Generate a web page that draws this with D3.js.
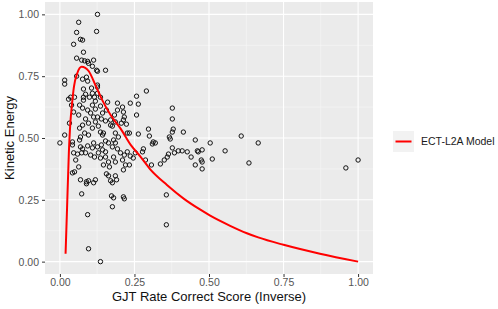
<!DOCTYPE html>
<html>
<head>
<meta charset="utf-8">
<script src="https://cdn.jsdelivr.net/npm/d3@7"></script>
<style>
  html, body { margin: 0; padding: 0; background: #ffffff; }
  svg { display: block; font-family: "Liberation Sans", Arial, sans-serif; }
</style>
</head>
<body>
<svg id="chart" width="498" height="309"></svg>
<script>
// ---- Data ----
const pointX = [
  0.126,0.123,0.063,0.056,0.069,0.076,0.046,0.079,0.056,0.073,0.083,0.093,0.113,0.096,0.109,0.123,0.126,0.153,0.016,0.016,
  0.056,0.076,0.089,0.093,0.126,0.126,0.079,0.106,0.036,0.029,0.049,0.126,0.136,0.160,0.193,0.257,0.290,0.236,0.263,0.257,
  0.213,0.210,0.213,0.206,0.226,0.263,0.297,0.300,0.313,0.320,0.310,0.377,0.377,0.380,0.377,0.367,0.370,0.414,0.454,0.280,
  0.277,0.253,0.226,0.216,0.236,0.210,0.246,0.307,0.337,0.350,0.360,0.364,0.377,0.397,0.410,0.427,0.440,0.464,0.454,0.086,
  0.079,0.099,0.109,0.116,0.066,0.076,0.093,0.103,0.109,0.119,0.063,0.113,0.126,0.119,0.086,0.076,0.096,0.143,0.153,0.170,
  0.186,0.032,0.129,0.136,0.146,0.083,0.096,0.016,0.000,0.042,0.042,0.066,0.069,0.076,0.093,0.109,0.113,0.126,0.139,0.143,
  0.153,0.163,0.176,0.186,0.193,0.203,0.059,0.086,0.103,0.116,0.129,0.136,0.153,0.163,0.180,0.186,0.053,0.042,0.049,0.063,
  0.069,0.089,0.096,0.119,0.163,0.190,0.176,0.220,0.213,0.166,0.146,0.089,0.113,0.170,0.073,0.173,0.180,0.176,0.213,0.216,
  0.093,0.096,0.136,0.357,0.357,0.461,0.477,0.504,0.554,0.511,0.474,0.477,0.477,0.608,0.665,0.634,0.959,1.000,0.287,0.384,
  0.233,0.186,0.156,0.073,0.046,0.066,0.069,0.156,0.143,0.153,0.176,0.186,0.180,0.223,0.233,0.216,0.170,0.139,0.109,0.196,
  0.193,0.183,0.046,0.039,0.079,0.119,0.136
];
const pointY = [
  1.000,0.931,0.968,0.927,0.899,0.896,0.879,0.847,0.823,0.815,0.812,0.810,0.815,0.802,0.790,0.774,0.770,0.774,0.734,0.718,
  0.750,0.738,0.746,0.730,0.714,0.706,0.698,0.702,0.665,0.657,0.665,0.681,0.665,0.645,0.641,0.669,0.690,0.641,0.637,0.593,
  0.605,0.625,0.573,0.560,0.520,0.516,0.536,0.508,0.484,0.480,0.476,0.621,0.577,0.536,0.524,0.504,0.496,0.524,0.492,0.456,
  0.444,0.440,0.444,0.431,0.427,0.411,0.419,0.391,0.395,0.411,0.423,0.435,0.460,0.448,0.448,0.444,0.423,0.444,0.391,0.677,
  0.665,0.665,0.681,0.665,0.633,0.621,0.613,0.601,0.633,0.617,0.593,0.585,0.585,0.565,0.577,0.552,0.560,0.601,0.569,0.552,
  0.565,0.560,0.548,0.524,0.520,0.520,0.512,0.512,0.480,0.484,0.472,0.492,0.464,0.456,0.468,0.460,0.480,0.464,0.472,0.452,
  0.444,0.480,0.464,0.480,0.456,0.440,0.435,0.440,0.431,0.423,0.440,0.419,0.423,0.403,0.423,0.403,0.411,0.359,0.363,0.383,
  0.331,0.323,0.327,0.331,0.347,0.331,0.319,0.391,0.371,0.383,0.391,0.315,0.319,0.327,0.274,0.266,0.258,0.222,0.262,0.254,
  0.190,0.052,0.000,0.270,0.149,0.448,0.452,0.480,0.448,0.415,0.411,0.403,0.375,0.508,0.480,0.399,0.379,0.411,0.411,0.440,
  0.391,0.347,0.355,0.440,0.440,0.540,0.504,0.613,0.512,0.488,0.548,0.520,0.492,0.556,0.520,0.585,0.573,0.577,0.540,0.504,
  0.613,0.593,0.605,0.633,0.653,0.649,0.629
];
const modelX = [0.019,0.024,0.030,0.035,0.040,0.047,0.058,0.073,0.085,0.097,0.119,0.142,0.170,0.203,0.240,0.270,0.303,0.359,0.415,0.471,0.504,0.571,0.627,0.665,0.750,0.872,1.000];
const modelY = [0.032,0.218,0.440,0.560,0.630,0.707,0.761,0.788,0.784,0.770,0.714,0.653,0.593,0.539,0.468,0.425,0.373,0.310,0.255,0.210,0.186,0.145,0.115,0.098,0.068,0.032,0.000];
const xTicks = [0, 0.25, 0.5, 0.75, 1];
const yTicks = [0, 0.25, 0.5, 0.75, 1];
const xMinor = [0.125, 0.375, 0.625, 0.875];
const yMinor = [0.125, 0.375, 0.625, 0.875];
const xTitle = "GJT Rate Correct Score (Inverse)";
const yTitle = "Kinetic Energy";
const legendLabel = "ECT-L2A Model";

// ---- Layout ----
const svg = d3.select("#chart");
const panel = { left: 45, top: 2, right: 373, bottom: 274 };

const x = d3.scaleLinear().domain([-0.05, 1.05]).range([panel.left, panel.right]);
const y = d3.scaleLinear().domain([-0.05, 1.05]).range([panel.bottom, panel.top]);

// panel background
svg.append("rect")
  .attr("x", panel.left).attr("y", panel.top)
  .attr("width", panel.right - panel.left).attr("height", panel.bottom - panel.top)
  .attr("fill", "#ebebeb");

const grid = svg.append("g");
// minor grid
grid.selectAll(".xminor").data(xMinor).enter().append("line")
  .attr("x1", d => x(d)).attr("x2", d => x(d))
  .attr("y1", panel.top).attr("y2", panel.bottom)
  .attr("stroke", "#f7f7f7").attr("stroke-width", 0.6);
grid.selectAll(".yminor").data(yMinor).enter().append("line")
  .attr("y1", d => y(d)).attr("y2", d => y(d))
  .attr("x1", panel.left).attr("x2", panel.right)
  .attr("stroke", "#f7f7f7").attr("stroke-width", 0.6);
// major grid
grid.selectAll(".xmajor").data(xTicks).enter().append("line")
  .attr("x1", d => x(d)).attr("x2", d => x(d))
  .attr("y1", panel.top).attr("y2", panel.bottom)
  .attr("stroke", "#ffffff").attr("stroke-width", 1.1);
grid.selectAll(".ymajor").data(yTicks).enter().append("line")
  .attr("y1", d => y(d)).attr("y2", d => y(d))
  .attr("x1", panel.left).attr("x2", panel.right)
  .attr("stroke", "#ffffff").attr("stroke-width", 1.1);

// points
const pts = pointX.map((v, i) => ({ x: v, y: pointY[i] }));
svg.append("g").selectAll("circle").data(pts).enter().append("circle")
  .attr("cx", d => x(d.x)).attr("cy", d => y(d.y))
  .attr("r", 2.2)
  .attr("fill", "none")
  .attr("stroke", "#111111")
  .attr("stroke-width", 1);

// model line
const model = modelX.map((v, i) => ({ x: v, y: modelY[i] }));
svg.append("path").datum(model)
  .attr("fill", "none")
  .attr("stroke", "#ff0000")
  .attr("stroke-width", 2)
  .attr("stroke-linejoin", "round")
  .attr("d", d3.line().x(d => x(d.x)).y(d => y(d.y)).curve(d3.curveMonotoneX));

// axes
const fmt = d3.format(".2f");
const xAxis = svg.append("g")
  .attr("transform", `translate(0,${panel.bottom})`)
  .call(d3.axisBottom(x).tickValues(xTicks).tickFormat(fmt).tickSize(3).tickPadding(2));
const yAxis = svg.append("g")
  .attr("transform", `translate(${panel.left},0)`)
  .call(d3.axisLeft(y).tickValues(yTicks).tickFormat(fmt).tickSize(3).tickPadding(3));
[xAxis, yAxis].forEach(a => {
  a.select(".domain").remove();
  a.selectAll(".tick line").attr("stroke", "#333333").attr("stroke-width", 1);
  a.selectAll(".tick text")
    .attr("fill", "#555555")
    .style("font-size", "10.5px")
    .style("font-family", "'Liberation Sans', Arial, sans-serif");
});

// titles
svg.append("text")
  .attr("x", (panel.left + panel.right) / 2)
  .attr("y", 301)
  .attr("text-anchor", "middle")
  .style("font-size", "13px")
  .attr("fill", "#111")
  .text(xTitle);
svg.append("text")
  .attr("transform", `translate(14,${(panel.top + panel.bottom) / 2}) rotate(-90)`)
  .attr("text-anchor", "middle")
  .style("font-size", "13px")
  .attr("fill", "#111")
  .text(yTitle);

// legend
const lg = svg.append("g").attr("transform", "translate(393,131)");
lg.append("rect").attr("width", 21).attr("height", 21).attr("fill", "#f2f2f2");
lg.append("line").attr("x1", 2.5).attr("x2", 18.5).attr("y1", 10.5).attr("y2", 10.5)
  .attr("stroke", "#ff0000").attr("stroke-width", 2);
lg.append("text").attr("x", 28).attr("y", 10.5).attr("dy", "0.35em")
  .style("font-size", "10.5px").attr("fill", "#1a1a1a").text(legendLabel);
</script>
</body>
</html>
